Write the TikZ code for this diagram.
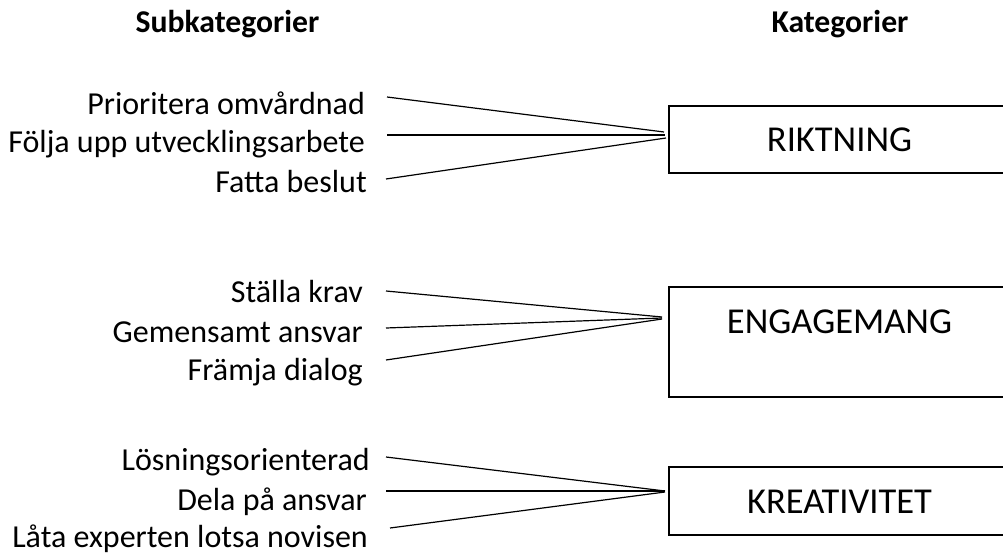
\documentclass[tikz,border=0pt]{standalone}
\usepackage{fontspec}
\setmainfont{Carlito}
\begin{document}
\begin{tikzpicture}[x=1pt,y=-1pt,
  sublabel/.style={anchor=base east,inner sep=0pt,font=\fontsize{32}{38}\selectfont},
  header/.style={anchor=base,inner sep=0pt,font=\fontsize{31.7}{38}\selectfont\bfseries},
  catbox/.style={draw,line width=1.8pt,anchor=base,inner sep=0pt,minimum width=341pt,
    text height=46pt,font=\fontsize{36.5}{43}\selectfont},
  link/.style={line width=1.2pt}]
\useasboundingbox (0,0) rectangle (1003,553);
\clip (0,0) rectangle (1003,553);
% headers
\node[header] (hsub) at (227.5,33) {Subkategorier};
\node[header] (hcat) at (840,33) {Kategorier};
% categories
\node[catbox,text depth=21pt] (rik) at (839.5,152) {RIKTNING};
\node[catbox,text depth=64pt] (eng) at (839.5,333) {ENGAGEMANG};
\node[catbox,text depth=22pt] (kre) at (839.5,513) {KREATIVITET};
% subcategories
\node[sublabel] (a1) at (365,115) {Prioritera omvårdnad};
\node[sublabel] (a2) at (365,153) {Följa upp utvecklingsarbete};
\node[sublabel] (a3) at (367,193) {Fatta beslut};
\node[sublabel] (b1) at (363,302) {Ställa krav};
\node[sublabel] (b2) at (363,342) {Gemensamt ansvar};
\node[sublabel] (b3) at (363,380) {Främja dialog};
\node[sublabel] (c1) at (370,470) {Lösningsorienterad};
\node[sublabel] (c2) at (367,510) {Dela på ansvar};
\node[sublabel] (c3) at (368,547) {Låta experten lotsa novisen};
% connector ends
\coordinate (a1s) at (387,97);  \coordinate (a1e) at (664,132);
\coordinate (a2s) at (387,135); \coordinate (a2e) at (665,135);
\coordinate (a3s) at (386,179); \coordinate (a3e) at (666,138);
\coordinate (b1s) at (386,291); \coordinate (b1e) at (662,317);
\coordinate (b2s) at (386,328); \coordinate (b2e) at (662,318);
\coordinate (b3s) at (386,360); \coordinate (b3e) at (662,319);
\coordinate (c1s) at (386,457); \coordinate (c1e) at (665,491);
\coordinate (c2s) at (386,491); \coordinate (c2e) at (665,491);
\coordinate (c3s) at (390,528); \coordinate (c3e) at (665,492);
\foreach \p in {a1,a2,a3,b1,b2,b3,c1,c2,c3}
  \draw[link] (\p s) -- (\p e);
\end{tikzpicture}
\end{document}
